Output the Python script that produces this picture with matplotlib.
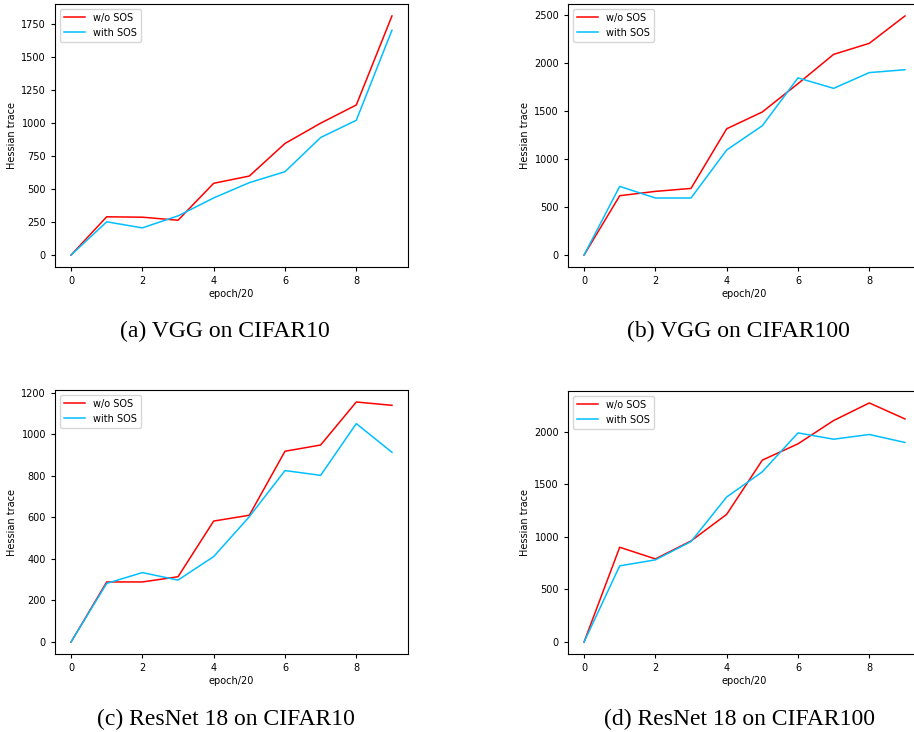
import matplotlib
matplotlib.use("Agg")
import matplotlib.pyplot as plt
import numpy as np

epochs = list(range(10))

vgg10_wo = [0, 290, 287, 264, 544, 599, 846, 1000, 1138, 1813]
vgg10_with = [0, 252, 206, 297, 433, 549, 632, 891, 1022, 1705]

vgg100_wo = [0, 618, 663, 694, 1315, 1490, 1785, 2090, 2205, 2490]
vgg100_with = [0, 715, 594, 594, 1094, 1347, 1845, 1736, 1900, 1930]

res10_wo = [0, 289, 289, 314, 582, 610, 918, 948, 1155, 1139]
res10_with = [0, 282, 334, 298, 411, 603, 825, 802, 1051, 913]

res100_wo = [0, 902, 791, 962, 1215, 1731, 1886, 2108, 2275, 2123]
res100_with = [0, 725, 782, 956, 1380, 1620, 1990, 1930, 1975, 1899]

captions = ["(a) VGG on CIFAR10", "(b) VGG on CIFAR100",
            "(c) ResNet 18 on CIFAR10", "(d) ResNet 18 on CIFAR100"]
labels = ["w/o SOS", "with SOS"]

W, H = 914, 732
fig = plt.figure(figsize=(W / 100, H / 100), dpi=100)

def px_axes(left, top, right, bottom):
    return fig.add_axes([left / W, 1 - bottom / H, (right - left) / W, (bottom - top) / H])

panels = [
    (px_axes(55, 4, 408, 267), vgg10_wo, vgg10_with, (225, 331)),
    (px_axes(568, 4, 921, 267), vgg100_wo, vgg100_with, (738, 331)),
    (px_axes(55, 390, 408, 654), res10_wo, res10_with, (226, 719)),
    (px_axes(568, 391, 921, 654), res100_wo, res100_with, (740, 719)),
]

for (ax, wo, wi, cpos), cap in zip(panels, captions):
    ax.plot(epochs, wo, color="red", lw=1.1, label=labels[0])
    ax.plot(epochs, wi, color="deepskyblue", lw=1.1, label=labels[1])
    ax.set_xticks([0, 2, 4, 6, 8])
    ax.tick_params(labelsize=7, length=3)
    ax.set_xlabel("epoch/20", fontsize=7, labelpad=2)
    ax.set_ylabel("Hessian trace", fontsize=7, labelpad=3)
    ax.legend(loc="upper left", fontsize=7, handlelength=2.2)
    fig.text(cpos[0] / W, 1 - cpos[1] / H, cap, ha="center", va="center",
             fontsize=17, family="Liberation Serif")

fig.savefig("out.png", dpi=100)
